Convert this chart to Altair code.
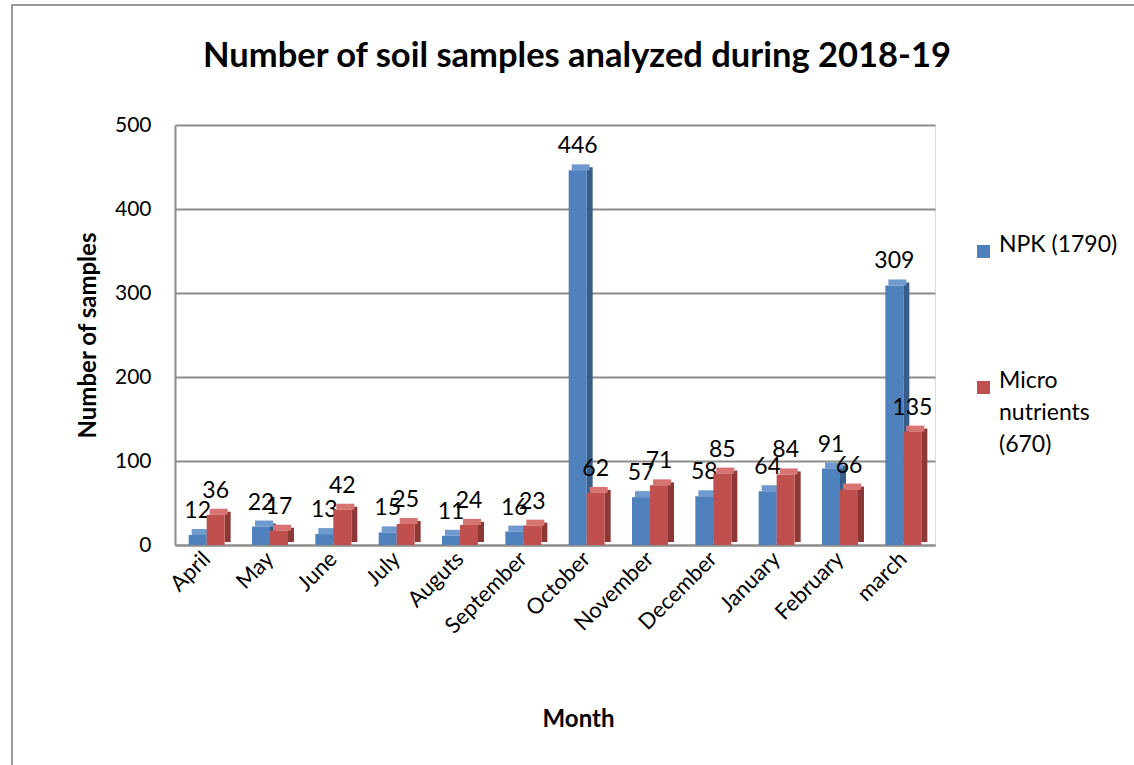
import altair as alt
import pandas as pd

months = ["April", "May", "June", "July", "Auguts", "September", "October",
          "November", "December", "January", "February", "march"]
npk = [12, 22, 13, 15, 11, 16, 446, 57, 58, 64, 91, 309]
micro = [36, 17, 42, 25, 24, 23, 62, 71, 85, 84, 66, 135]
series_names = ["NPK (1790)", "Micro nutrients (670)"]
title_text = "Number of soil samples analyzed during 2018-19"
colors = ["#4F81BD", "#C0504D"]
side_colors = ["#385D8A", "#8C3836"]
top_colors = ["#6F9AD0", "#D77370"]

rows = []
for m, a, b in zip(months, npk, micro):
    rows.append({"month": m, "series": series_names[0], "value": a})
    rows.append({"month": m, "series": series_names[1], "value": b})
df = pd.DataFrame(rows)

FONT = "Lato"
BW = 18
DEPTH = 6

x_enc = alt.X("month:N", sort=months,
              scale=alt.Scale(paddingInner=0, paddingOuter=0),
              axis=alt.Axis(title="Month", labelAngle=-45, labelAlign="right",
                            labelBaseline="middle", labelFontSize=22,
                            labelFont=FONT, labelPadding=10, ticks=False,
                            domainColor="#8c8c8c", domainWidth=2,
                            titleFont=FONT, titleFontSize=24, titleFontWeight="bold",
                            titleX=403, titleY=174, titleBaseline="middle"))
y_enc = alt.Y("value:Q", scale=alt.Scale(domain=[0, 500]),
              axis=alt.Axis(title="Number of samples", values=[0, 100, 200, 300, 400, 500],
                            labelFontSize=21, labelFont=FONT, labelPadding=24,
                            ticks=False, domainColor="#8c8c8c", domainWidth=2,
                            gridColor="#8c8c8c", gridWidth=2,
                            titleFont=FONT, titleFontSize=24, titleFontWeight="bold",
                            titlePadding=14))
color_enc = alt.Color("series:N", scale=alt.Scale(domain=series_names, range=colors),
                      legend=alt.Legend(title=None, orient="none", legendX=797, legendY=115,
                                        symbolType="square", symbolSize=170,
                                        symbolStrokeWidth=0,
                                        labelFont=FONT, labelFontSize=23,
                                        labelBaseline="alphabetic",
                                        rowPadding=110, labelLimit=300,
                                        labelExpr="datum.label == 'Micro nutrients (670)' ? ['Micro', 'nutrients', '(670)'] : datum.label"))

layers = []
offsets = [-9, 9]
for i, s in enumerate(series_names):
    base = alt.Chart(df).transform_filter(alt.datum.series == s)
    side = base.mark_bar(width=DEPTH, xOffset=offsets[i] + BW / 2 + DEPTH / 2,
                         yOffset=-DEPTH / 2, color=side_colors[i]).encode(x=x_enc, y="value:Q")
    top = base.mark_tick(orient="horizontal", thickness=DEPTH, size=BW,
                         xOffset=offsets[i] + DEPTH / 2, yOffset=-DEPTH / 2,
                         color=top_colors[i], opacity=1).encode(x=x_enc, y="value:Q")
    front = base.mark_bar(width=BW, xOffset=offsets[i]).encode(x=x_enc, y=y_enc, color=color_enc)
    label = base.mark_text(xOffset=offsets[i], dy=-12, baseline="bottom",
                           font=FONT, fontSize=23, color="black").encode(
        x=x_enc, y="value:Q", text="value:Q")
    layers += [side, top, front, label]

frame = alt.Chart(df).mark_rect(fill=None, stroke="#999999", strokeWidth=1.5).encode(
    x=alt.value(-163), x2=alt.value(1000), y=alt.value(-120), y2=alt.value(700))
title = alt.Chart(pd.DataFrame({"t": [title_text]})).mark_text(
    font=FONT, fontSize=34.5, fontWeight="bold", baseline="middle", align="center",
    color="black").encode(x=alt.value(402), y=alt.value(-68), text="t:N")

chart = alt.layer(frame, title, *layers).properties(
    width=760, height=420,
    autosize=alt.AutoSizeParams(type="none"),
    padding={"left": 175, "top": 125, "right": 199, "bottom": 220},
).configure_view(stroke=None).configure(
    background="white", style={"guide-label": {"lineHeight": 32}})

chart.save("out.html", embed_options={"renderer": "svg", "actions": False})
